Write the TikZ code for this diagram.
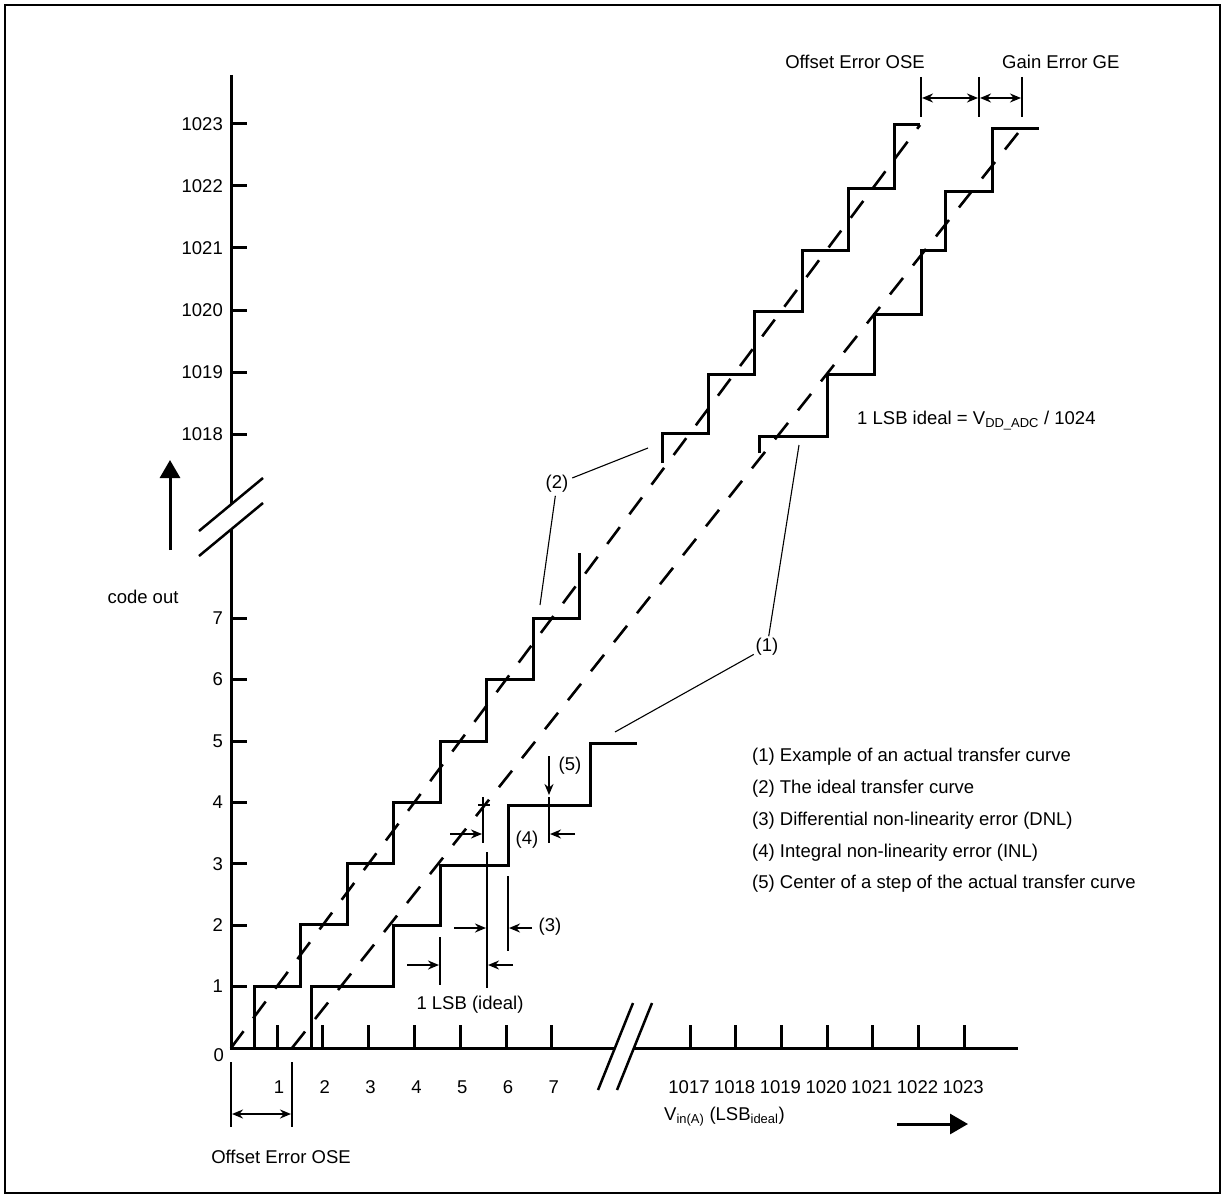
\documentclass[tikz,border=0pt]{standalone}
\usepackage{fontspec}
\setmainfont{Liberation Sans}
\usetikzlibrary{arrows.meta}

\begin{document}
\begin{tikzpicture}[x=1pt, y=-1pt,
  every node/.style = {font=\fontsize{18.5}{22}\selectfont, inner sep=0pt},
  axis/.style = {line width=3pt},
  stair/.style = {line width=3pt, line join=miter},
  ideal/.style = {line width=2.6pt, dash pattern=on 21pt off 16pt},
  leader/.style = {line width=1.1pt},
  dimline/.style = {line width=1.8pt},
  dimarrow/.style = {line width=1.8pt, -{Stealth[length=11pt, width=9pt]}},
  dimboth/.style = {line width=1.8pt, {Stealth[length=11pt, width=9pt]}-{Stealth[length=11pt, width=9pt]}},
  bigarrow/.style = {line width=3pt, -{Triangle[length=18pt, width=20pt]}}]
\useasboundingbox (0,0) rectangle (1225,1198);
\draw [line width=1.5pt] (5,5) rectangle (1220,1193);

\draw [axis] (231,75) -- (231,504);
\draw [axis] (231,529) -- (231,1048) -- (615,1048);
\draw [axis] (634,1048) -- (1018,1048);
\draw [line width=2.5pt] (199,531) -- (263,478) (199,556) -- (263,503);
\draw [line width=2.5pt] (598,1090) -- (633,1003) (617,1090) -- (652,1003);

\node [anchor=east] (ylab0) at (224,1055) {0};
\foreach \k in {1,...,7}{
  \draw [axis] (231,{1048-61.4*\k}) -- (247,{1048-61.4*\k});
  \node [anchor=east] (ylab\k) at (223,{1048-61.4*\k}) {\k};
}
\foreach \k [count=\i from 0] in {1018,...,1023}{
  \draw [axis] (231,{434-62*\i}) -- (247,{434-62*\i});
  \node [anchor=east] (ylab\k) at (223,{434-62*\i}) {\k};
}
\foreach \k in {1,...,7}{
  \draw [axis] ({277+45.8*(\k-1)},1048) -- ({277+45.8*(\k-1)},1025);
  \node (xlab\k) at ({279+45.8*(\k-1)},1087) {\k};
}
\foreach \k [count=\i from 0] in {1017,...,1023}{
  \draw [axis] ({690+45.7*\i},1048) -- ({690+45.7*\i},1025);
  \node (xlab\k) at ({689+45.7*\i},1087) {\k};
}

\draw [bigarrow] (170,550) -- (170,460);
\node (codeout) at (143,597) {code out};
\draw [bigarrow] (897,1124) -- (968,1124);
\node [anchor=base west] (vin) at (664,1120) {V\textsubscript{in(A)} (LSB\textsubscript{ideal})};

\draw [ideal] (231,1048) -- (920,125);
\draw [ideal] (292,1048) -- (1022,128);
\draw [stair] (254,1048) -- (254,986) -- (300,986) -- (300,924) -- (347,924) -- (347,863)
  -- (393,863) -- (393,802) -- (440,802) -- (440,741) -- (486,741) -- (486,679)
  -- (533,679) -- (533,618) -- (579,618) -- (579,553);
\draw [stair] (311,1048) -- (311,986) -- (393,986) -- (393,925) -- (440,925) -- (440,865)
  -- (508,865) -- (508,805) -- (590,805) -- (590,743) -- (637,743);
\draw [stair] (662,463) -- (662,433) -- (708,433) -- (708,374) -- (754,374) -- (754,311)
  -- (802,311) -- (802,251) -- (848,251) -- (848,189) -- (894,189) -- (894,125) -- (920,125);
\draw [stair] (759,453) -- (759,436) -- (827,436) -- (827,374) -- (874,374) -- (874,314)
  -- (921,314) -- (921,251) -- (945,251) -- (945,192) -- (992,192) -- (992,129) -- (1039,129);

\node (ose) at (855,62) {Offset Error OSE};
\node [anchor=west] (ge) at (1002,62) {Gain Error GE};
\draw [dimline] (921,77) -- (921,117) (979,77) -- (979,117) (1022,77) -- (1022,117);
\draw [dimboth] (922,98) -- (978,98);
\draw [dimboth] (980,98) -- (1021,98);

\draw [dimline] (231,1062) -- (231,1127) (292,1062) -- (292,1127);
\draw [dimboth] (232,1114) -- (291,1114);
\node (osebot) at (281,1157) {Offset Error OSE};

\node [anchor=base west] (lsbdef) at (857,424) {1 LSB ideal = V\textsubscript{DD\_ADC} / 1024};

\node (lbltwo) at (557,484) {(2)};
\coordinate (idealhi) at (648,448);
\coordinate (ideallo) at (540,605);
\draw [leader, shorten <=4pt] (lbltwo) -- (idealhi);
\draw [leader, shorten <=3pt] (lbltwo) -- (ideallo);
\node (lblone) at (767,647) {(1)};
\coordinate (actualhi) at (799,445);
\coordinate (actuallo) at (615,732);
\draw [leader, shorten <=2pt] (lblone) -- (actualhi);
\draw [leader, shorten <=2pt] (lblone) -- (actuallo);

\draw [dimline] (440,937) -- (440,985) (487,852) -- (487,988);
\draw [dimarrow] (407,965) -- (439,965);
\draw [dimarrow] (513,965) -- (488,965);
\node (lsbideal) at (470,1005) {1 LSB (ideal)};

\draw [dimarrow] (454,928) -- (486,928);
\draw [dimline] (508,876) -- (508,951);
\draw [dimarrow] (532,928) -- (509,928);
\node (lblthree) at (550,927) {(3)};

\draw [dimline] (483,797) -- (483,843) (478,805) -- (490,805);
\draw [dimarrow] (450,834) -- (482,834);
\draw [dimline] (549,797) -- (549,843);
\draw [dimarrow] (575,834) -- (550,834);
\node (lblfour) at (527,840) {(4)};
\draw [dimarrow] (549,756) -- (549,795);
\node (lblfive) at (570,766) {(5)};

\node [anchor=west] (leg1) at (752,757) {(1) Example of an actual transfer curve};
\node [anchor=west] (leg2) at (752,789) {(2) The ideal transfer curve};
\node [anchor=west] (leg3) at (752,821) {(3) Differential non-linearity error (DNL)};
\node [anchor=west] (leg4) at (752,853) {(4) Integral non-linearity error (INL)};
\node [anchor=west] (leg5) at (752,884) {(5) Center of a step of the actual transfer curve};
\end{tikzpicture}
\end{document}
